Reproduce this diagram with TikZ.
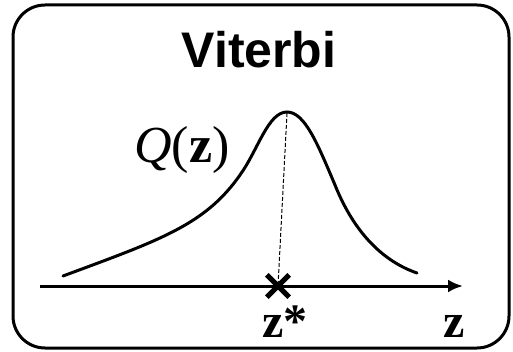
\documentclass[tikz,border=0pt]{standalone}
\usepackage{fontspec}
\setmainfont{Liberation Serif}
\newfontfamily\arialfont{Liberation Sans}
\usetikzlibrary{arrows.meta}
\tikzset{
  frame/.style={line width=3pt, rounded corners=32pt},
  curveline/.style={line width=3pt, line cap=round},
  axisline/.style={line width=3pt, -{Latex[length=15pt,width=13pt]}},
  dropline/.style={line width=1pt, dash pattern=on 4pt off 2pt},
  crossmark/.style={line width=5pt},
  lbl/.style={inner sep=0pt, anchor=base},
}
\begin{document}
\begin{tikzpicture}[x=1pt,y=-1pt]
\useasboundingbox (0,0) rectangle (513,352);
\draw[frame] (13,5) rectangle (509,348);
\node[lbl] (title) at (259,68) {\arialfont\fontsize{50}{60}\selectfont\bfseries Viterbi};
\node[lbl] (qz) at (182,163) {\fontsize{52}{60}\selectfont\textit{Q}(\textbf{z})};
\coordinate (axs) at (40,286);
\coordinate (axe) at (463,286);
\draw[axisline] (axs) -- (axe);
\draw[curveline] (63,276) .. controls (160,240) and (205,225) .. (240,175)
  .. controls (258,150) and (268,112) .. (287,112)
  .. controls (305,112) and (318,145) .. (335,185)
  .. controls (355,235) and (385,262) .. (417,273);
\coordinate (peak) at (287,113);
\node[inner sep=0pt, minimum size=22pt] (star) at (278,286) {};
\draw[crossmark] (star.north west) -- (star.south east) (star.north east) -- (star.south west);
\draw[dropline] (peak) -- (star.center);
\node[lbl] (zstar) at (285,337) {\fontsize{48}{56}\selectfont\bfseries z*};
\node[lbl] (zax) at (454,337) {\fontsize{48}{56}\selectfont\bfseries z};
\end{tikzpicture}
\end{document}
